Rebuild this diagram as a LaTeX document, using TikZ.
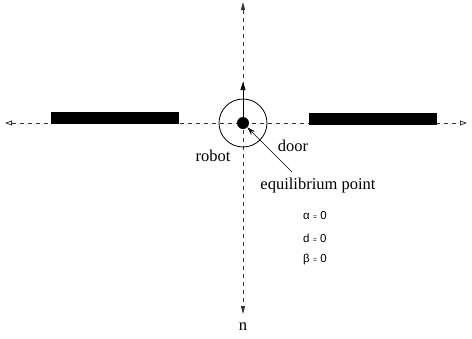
\documentclass[tikz,border=0pt]{standalone}
\usepackage{fontspec}
\setmainfont{Liberation Serif}
\setsansfont{Liberation Sans}
\usetikzlibrary{arrows.meta, positioning}

\begin{document}
\begin{tikzpicture}[x=1pt, y=-1pt,
    axis/.style={dash pattern=on 4pt off 4pt, line width=0.8pt, black!80},
    doorbar/.style={rectangle, fill=black, minimum width=128pt, minimum height=12pt, inner sep=0pt},
    lbl/.style={font=\fontsize{16.5}{19}\selectfont, inner sep=1pt},
    eqn/.style={font=\sffamily\fontsize{11.5}{13}\selectfont, inner sep=0pt, anchor=west}
]
    \useasboundingbox (0,0) rectangle (472,338);
    % axes
    \coordinate (west) at (5,123);
    \coordinate (east) at (467,123);
    \coordinate (north) at (243,2);
    \coordinate (south) at (243,314);
    \node[lbl] (n) at (243,327) {n};
    \draw[axis, {Triangle[open, length=7pt, width=5pt]}-{Triangle[open, length=7pt, width=5pt]}] (west) -- (east);
    \draw[axis, {Triangle[length=8pt, width=4pt]}-{Triangle[length=8pt, width=4pt]}] (north) -- (south);
    % doors
    \node[doorbar] (leftdoor) at (115,118) {};
    \node[doorbar] (rightdoor) at (373,118.5) {};
    % robot
    \node[circle, draw, thick, minimum size=48pt] (robot) at (243,123) {};
    \node[circle, fill, minimum size=12pt, inner sep=0pt] (eq) at (243,123) {};
    \coordinate (heading) at (243,82);
    \draw[thick, -{Triangle[length=8pt, width=5pt]}] (eq.center) -- (heading);
    % labels
    \node[lbl] (robotlbl) at (213,156) {robot};
    \node[lbl] (doorlbl) at (293,146) {door};
    \node[lbl] (equil) at (318,186) {equilibrium point};
    \coordinate (tail) at (292,172);
    \draw[-{Stealth[length=8pt, width=5pt]}] (tail) -- (eq.south east);
    \node[eqn] (alpha) at (303,216) {α {\scriptsize =} 0};
    \node[eqn] (dist) at (303,238) {d {\scriptsize =} 0};
    \node[eqn] (beta) at (303,260) {β {\scriptsize =} 0};
\end{tikzpicture}
\end{document}
